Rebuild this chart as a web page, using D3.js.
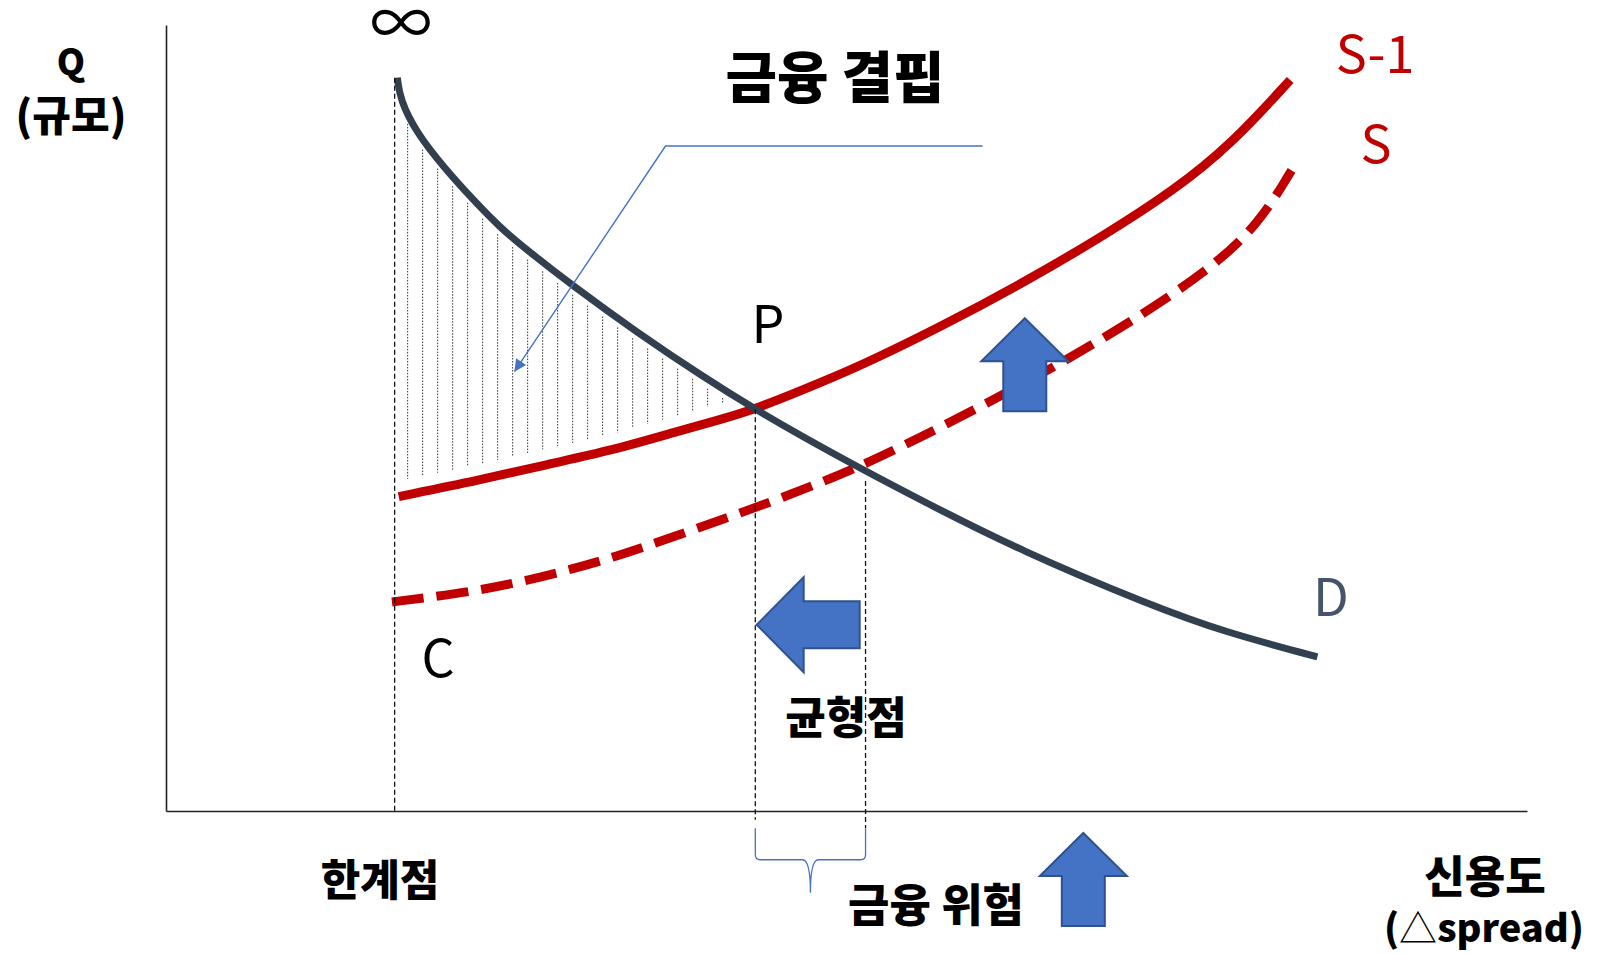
<!DOCTYPE html>
<html>
<head>
<meta charset="utf-8">
<script src="https://cdn.jsdelivr.net/npm/d3@7"></script>
<style>
  body { margin: 0; background: #fff; }
  text { font-family: "Noto Sans CJK KR", "Noto Sans", sans-serif; }
</style>
</head>
<body>
<svg id="chart"></svg>
<script>
// demand curve D (credit -> Q)
const creditD = [17.0, 17.2, 18.4, 20.4, 22.6, 24.5, 26.5, 29.9, 34.6, 39.5, 43.3, 46.8, 50.8, 55.4, 62.8, 72.3, 77.7, 84.6];
const qD      = [93.3, 90.5, 86.3, 81.9, 77.7, 74.3, 71.4, 66.8, 60.9, 55.2, 51.1, 47.6, 43.8, 39.6, 33.1, 26.2, 22.8, 19.6];

// supply after shift (S-1), solid
const creditS1 = [17.1, 23.1, 28.0, 32.6, 37.6, 40.7, 43.3, 48.8, 51.7, 56.9, 63.0, 69.1, 74.0, 78.2, 82.6];
const qS1      = [40.0, 42.1, 44.1, 45.8, 48.3, 49.8, 51.1, 55.0, 57.2, 61.6, 67.2, 73.4, 78.9, 84.7, 93.0];

// original supply (S), dashed
const creditS = [16.6, 19.4, 23.1, 26.2, 29.7, 33.1, 36.5, 40.7, 44.6, 48.1, 50.8, 55.4, 60.5, 66.6, 71.6, 76.5, 80.2, 82.7];
const qS      = [26.6, 27.2, 28.1, 29.2, 30.7, 32.4, 34.4, 37.0, 39.4, 41.8, 43.7, 47.5, 52.0, 57.8, 63.0, 68.7, 74.4, 81.5];

// key points: limit, P (new equilibrium), old equilibrium
const limitCredit = 16.8;
const pCredit = 43.3, pQ = 51.1;
const eqCredit = 51.4, eqQ = 42.0;

const width = 1599;
const height = 954;

const svg = d3.select("#chart")
  .attr("width", width)
  .attr("height", height);

const x = d3.scaleLinear().domain([0, 100]).range([166, 1527]);
const y = d3.scaleLinear().domain([0, 100]).range([811, 25]);

const blue = "#4472C4";
const red = "#C00000";

// axes with no ticks, just the domain lines
svg.append("g")
  .attr("transform", `translate(0, ${y(0)})`)
  .call(d3.axisBottom(x).tickValues([]).tickSizeOuter(0))
  .select(".domain").attr("stroke", "#222").attr("stroke-width", 1.6);

svg.append("g")
  .attr("transform", `translate(${x(0)}, 0)`)
  .call(d3.axisLeft(y).tickValues([]).tickSizeOuter(0))
  .select(".domain").attr("stroke", "#222").attr("stroke-width", 1.6);

const line = d3.line()
  .x(d => x(d[0]))
  .y(d => y(d[1]))
  .curve(d3.curveBasis);

// hatch between D and S-1 (the "gap")
const dAt = d3.scaleLinear().domain(creditD).range(qD);
const s1At = d3.scaleLinear().domain(creditS1).range(qS1);
const hatch = d3.range(x(limitCredit) + 13, x(pCredit) - 10, 15)
  .map(px => {
    const c = x.invert(px);
    return { px, top: y(dAt(c)) + 9, bot: y(s1At(c)) - 16 };
  })
  .filter(d => d.bot - d.top > 3);

svg.append("g")
  .selectAll("line")
  .data(hatch)
  .join("line")
  .attr("x1", d => d.px).attr("x2", d => d.px)
  .attr("y1", d => d.top).attr("y2", d => d.bot)
  .attr("stroke", "#333")
  .attr("stroke-width", 1)
  .attr("stroke-dasharray", "1.5,1.5");

// supply curves
svg.append("path")
  .datum(d3.zip(creditS, qS))
  .attr("d", line)
  .attr("fill", "none")
  .attr("stroke", red)
  .attr("stroke-width", 9)
  .attr("stroke-dasharray", "32,13");

svg.append("path")
  .datum(d3.zip(creditS1, qS1))
  .attr("d", line)
  .attr("fill", "none")
  .attr("stroke", red)
  .attr("stroke-width", 9);

// demand
svg.append("path")
  .datum(d3.zip(creditD, qD))
  .attr("d", line)
  .attr("fill", "none")
  .attr("stroke", "#323F4F")
  .attr("stroke-width", 7);

// dashed drop lines
const drops = [
  { c: limitCredit, q0: qD[0], q1: 0 },
  { c: pCredit, q0: pQ, q1: -1.1 },
  { c: eqCredit, q0: eqQ, q1: -2.2 }
];
svg.append("g")
  .selectAll("line")
  .data(drops)
  .join("line")
  .attr("x1", d => x(d.c)).attr("x2", d => x(d.c))
  .attr("y1", d => y(d.q0)).attr("y2", d => y(d.q1))
  .attr("stroke", "#111")
  .attr("stroke-width", 1.3)
  .attr("stroke-dasharray", "5,3");

// brace under the axis between P and the old equilibrium
{
  const xl = x(pCredit), xr = x(eqCredit), xm = (xl + xr) / 2;
  const yt = y(-2.2), yh = y(-6.2), ytip = y(-10.4);
  const p = d3.path();
  p.moveTo(xl, yt);
  p.lineTo(xl, yh - 5);
  p.quadraticCurveTo(xl, yh, xl + 5, yh);
  p.lineTo(xm - 8, yh);
  p.quadraticCurveTo(xm, yh, xm, ytip);
  p.quadraticCurveTo(xm, yh, xm + 8, yh);
  p.lineTo(xr - 5, yh);
  p.quadraticCurveTo(xr, yh, xr, yh - 5);
  p.lineTo(xr, yt);
  svg.append("path")
    .attr("d", p.toString())
    .attr("fill", "none")
    .attr("stroke", blue)
    .attr("stroke-width", 1.3);
}

// callout from the title to the hatched area
svg.append("defs").append("marker")
  .attr("id", "tri")
  .attr("viewBox", "0 0 10 10")
  .attr("refX", 10).attr("refY", 5)
  .attr("markerWidth", 16).attr("markerHeight", 12)
  .attr("markerUnits", "userSpaceOnUse")
  .attr("orient", "auto")
  .append("path")
  .attr("d", "M0,0 L10,5 L0,10 Z")
  .attr("fill", blue);

const callout = [[60.0, 84.6], [36.7, 84.6], [25.6, 55.9]];
svg.append("path")
  .datum(callout)
  .attr("d", d3.line().x(d => x(d[0])).y(d => y(d[1])))
  .attr("fill", "none")
  .attr("stroke", blue)
  .attr("stroke-width", 1.4)
  .attr("marker-end", "url(#tri)");

// block arrows (tip given in chart units)
const arrows = [
  { dir: "up", c: 63.1, q: 62.7 },
  { dir: "left", c: 43.4, q: 23.7 },
  { dir: "up", c: 67.4, q: -2.8 }
];
function arrowPoints(dir) {
  const headW = dir === "left" ? 95 : 87;
  const headL = dir === "left" ? 47 : 43;
  const shaftW = dir === "left" ? 47 : 43;
  const total = dir === "left" ? 103 : 93;
  const pts = [
    [0, 0], [headW / 2, headL], [shaftW / 2, headL], [shaftW / 2, total],
    [-shaftW / 2, total], [-shaftW / 2, headL], [-headW / 2, headL]
  ];
  return dir === "left" ? pts.map(([a, b]) => [b, a]) : pts;
}
svg.append("g")
  .selectAll("polygon")
  .data(arrows)
  .join("polygon")
  .attr("transform", d => `translate(${x(d.c)}, ${y(d.q)})`)
  .attr("points", d => arrowPoints(d.dir).map(p => p.join(",")).join(" "))
  .attr("fill", blue)
  .attr("stroke", "#2F528F")
  .attr("stroke-width", 2);

// labels
const labels = [
  { t: "Q", x: 71, y: 75, size: 36, w: 900 },
  { t: "(규모)", x: 71, y: 131, size: 42, w: 900 },
  { t: "∞", x: 401, y: 46, size: 62, w: 400 },
  { t: "금융 결핍", x: 835, y: 98, size: 56, w: 900 },
  { t: "P", x: 768, y: 343, size: 52, w: 400 },
  { t: "C", x: 438, y: 677, size: 52, w: 400 },
  { t: "S-1", x: 1375, y: 73, size: 52, w: 400, fill: red },
  { t: "S", x: 1376, y: 163, size: 52, w: 400, fill: red },
  { t: "D", x: 1331, y: 616, size: 52, w: 400, fill: "#44546A" },
  { t: "균형점", x: 846, y: 734, size: 44, w: 900 },
  { t: "한계점", x: 380, y: 896, size: 43, w: 900 },
  { t: "금융 위험", x: 936, y: 922, size: 45, w: 900 },
  { t: "신용도", x: 1485, y: 893, size: 44, w: 900 }
];
svg.append("g")
  .selectAll("text")
  .data(labels)
  .join("text")
  .attr("x", d => d.x)
  .attr("y", d => d.y)
  .attr("text-anchor", "middle")
  .attr("font-size", d => d.size)
  .attr("font-weight", d => d.w)
  .attr("fill", d => d.fill || "#000")
  .text(d => d.t);

const spread = svg.append("text")
  .attr("x", 1484).attr("y", 942)
  .attr("text-anchor", "middle")
  .attr("font-size", 38)
  .attr("font-weight", 900);
spread.append("tspan").text("(");
spread.append("tspan").attr("font-weight", 400).text("△");
spread.append("tspan").text("spread)");
</script>
</body>
</html>
